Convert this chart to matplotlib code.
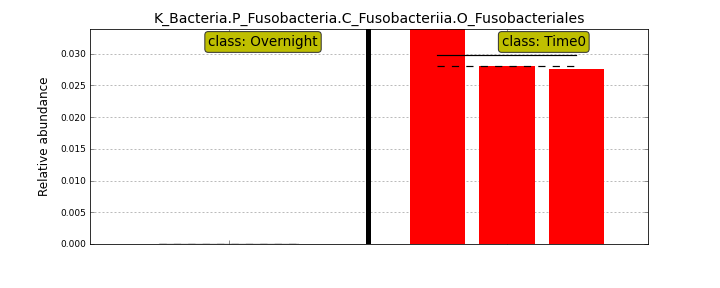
import matplotlib
matplotlib.use("Agg")
import matplotlib.pyplot as plt
import numpy as np

# samples per class (relative abundance)
title = "K_Bacteria.P_Fusobacteria.C_Fusobacteriia.O_Fusobacteriales"
classes = ["Overnight", "Time0"]
overnight_vals = [0.0, 0.0, 0.0]
time0_vals = [0.0339, 0.0281, 0.0276]

fig = plt.figure(figsize=(10, 4), dpi=72)
ax = fig.add_axes([0.125, 0.153, 0.775, 0.746])

groups = [overnight_vals, time0_vals]
pos = 1
centers = []
ymax = max(max(g) for g in groups)
for i, vals in enumerate(groups):
    x = np.arange(pos, pos + len(vals))
    ax.bar(x, vals, width=0.8, color="r", edgecolor="none", zorder=2)
    ax.plot([x[0], x[-1]], [np.mean(vals)] * 2, "k-", lw=1.2, zorder=3)
    ax.plot([x[0], x[-1]], [np.median(vals)] * 2, "k--", lw=1.2, dashes=(6, 6), zorder=3)
    centers.append(x.mean())
    if i < len(groups) - 1:
        sep = x[-1] + 1
        ax.axvline(sep, color="k", lw=5, zorder=3)
        pos = sep + 1

label_x = [2.49, 6.53]
for c, lx in zip(classes, label_x):
    ax.text(lx, ymax * 0.94, "class: " + c, ha="center", va="center", fontsize=13.5,
            bbox=dict(boxstyle="round,pad=0.25", facecolor=(0.75, 0.75, 0), edgecolor="#333333"),
            zorder=4)

ax.set_xlim(0, 8.03)
ax.set_ylim(0, ymax)
ax.set_xticks(centers)
ax.set_xticklabels([])
ax.set_yticks(np.arange(0, 0.031, 0.005))
ax.set_yticklabels(["%.3f" % v for v in np.arange(0, 0.031, 0.005)], fontsize=9)
ax.tick_params(direction="in", top=True, right=True, color="#777777", length=4)
ax.yaxis.grid(True, linestyle=(0, (2.5, 2.5)), color="#aaaaaa", lw=0.8, zorder=0)
ax.set_ylabel("Relative abundance", fontsize=12, labelpad=10)
ax.set_title(title, fontsize=14)

fig.savefig("out.png", dpi=72)
